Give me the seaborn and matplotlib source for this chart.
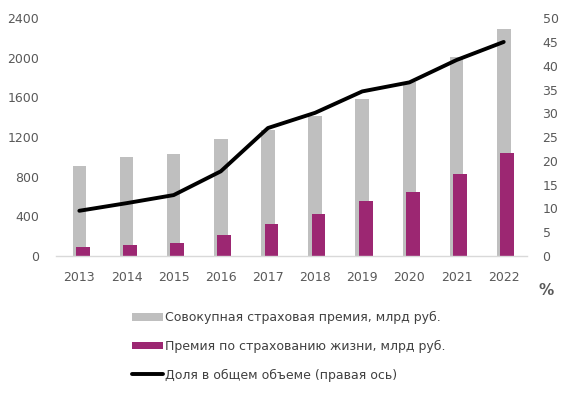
import numpy as np
import matplotlib
matplotlib.use("Agg")
import matplotlib.pyplot as plt
import seaborn as sns

# chart data
years = ["2013", "2014", "2015", "2016", "2017", "2018", "2019", "2020", "2021", "2022"]
total_premium = [905, 995, 1025, 1185, 1272, 1415, 1588, 1752, 2010, 2291]
life_premium = [90, 111, 131, 215, 325, 428, 553, 643, 824, 1035]
life_share = [9.5, 11.1, 12.8, 17.8, 26.9, 30.1, 34.6, 36.5, 41.2, 45.0]

label_total = "Совокупная страховая премия, млрд руб."
label_life = "Премия по страхованию жизни, млрд руб."
label_share = "Доля в общем объеме (правая ось)"

grey = "#bfbfbf"
purple = "#9c2772"
tick_col = "#595959"

sns.set_theme(style="white")
plt.rcParams["font.family"] = ["DejaVu Sans"]

fig = plt.figure(figsize=(5.75, 3.95), dpi=100)
ax = fig.add_axes([0.097, 0.352, 0.82, 0.602])

sns.barplot(x=years, y=total_premium, color=grey, width=0.29, saturation=1,
            linewidth=0, ax=ax, label=label_total)
n_grey = len(ax.patches)
sns.barplot(x=years, y=life_premium, color=purple, width=0.29, saturation=1,
            linewidth=0, ax=ax, label=label_life)
# nudge the purple bars a bit to the right like in the original
for p in ax.patches[n_grey:]:
    p.set_x(p.get_x() + 0.075)

ax.set_xlim(-0.5, len(years) - 0.5)
ax.set_ylim(0, 2400)
ax.set_yticks(np.arange(0, 2401, 400))
ax.set_xlabel("")
ax.set_ylabel("")
for s in ["top", "right", "left"]:
    ax.spines[s].set_visible(False)
ax.spines["bottom"].set_color("#d9d9d9")
ax.spines["bottom"].set_linewidth(1.0)
ax.tick_params(axis="x", length=0, pad=11, labelsize=9, colors=tick_col)
ax.tick_params(axis="y", length=0, pad=12, labelsize=9, colors=tick_col)
if ax.get_legend():
    ax.get_legend().remove()

ax2 = ax.twinx()
sns.lineplot(x=np.arange(len(years)), y=life_share, color="black", linewidth=2.8,
             ax=ax2, label=label_share)
ax2.lines[0].set_solid_capstyle("round")
ax2.lines[0].set_solid_joinstyle("round")
ax2.set_ylim(0, 50)
ax2.set_yticks(np.arange(0, 51, 5))
ax2.set_ylabel("")
for s in ["top", "right", "left", "bottom"]:
    ax2.spines[s].set_visible(False)
ax2.tick_params(axis="y", length=0, pad=11, labelsize=9, colors=tick_col)
ax2.get_legend().remove()

fig.text(0.950, 0.265, "%", fontsize=11, fontweight="bold", color=tick_col,
         ha="center", va="center")

h1, l1 = ax.get_legend_handles_labels()
h2, l2 = ax2.get_legend_handles_labels()
leg = fig.legend(h1 + h2, l1 + l2, loc="upper left", bbox_to_anchor=(0.22, 0.225),
                 frameon=False, fontsize=9, handlelength=2.5, handleheight=0.6,
                 handletextpad=0.15, labelspacing=1.25, borderaxespad=0)
for t in leg.get_texts():
    t.set_color("#404040")

fig.savefig("out.png", dpi=100)
